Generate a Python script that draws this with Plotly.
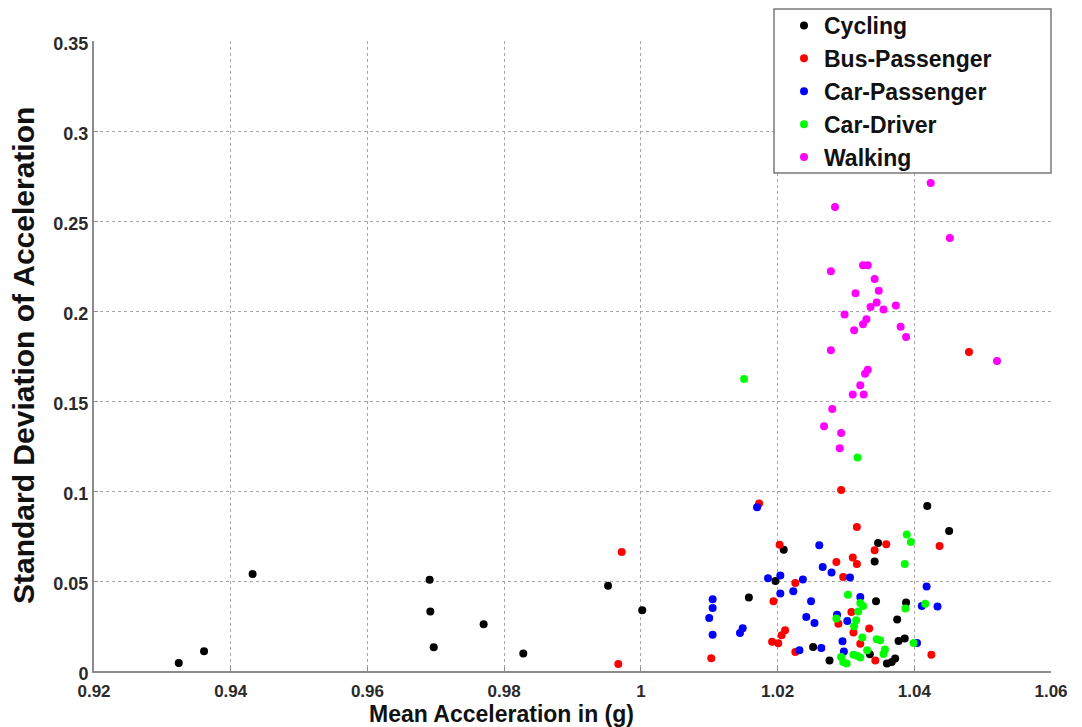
import plotly.graph_objects as go

# Mean acceleration (g) and standard deviation of acceleration per activity
cycling_x = [0.9324, 0.9361, 0.9432, 0.9691, 0.9692, 0.9697, 0.9770, 0.9828, 0.9952, 1.0002,
             1.0158, 1.0197, 1.0209, 1.0252, 1.0276, 1.0335, 1.0342, 1.0344, 1.0347, 1.0360,
             1.0367, 1.0372, 1.0375, 1.0377, 1.0386, 1.0388, 1.0419, 1.0451]
cycling_y = [0.0045, 0.0110, 0.0539, 0.0507, 0.0330, 0.0132, 0.0260, 0.0097, 0.0474, 0.0337,
             0.0408, 0.0500, 0.0674, 0.0133, 0.0059, 0.0093, 0.0609, 0.0387, 0.0711, 0.0041,
             0.0050, 0.0069, 0.0286, 0.0167, 0.0180, 0.0380, 0.0916, 0.0778]

bus_x = [0.9967, 0.9972, 1.0103, 1.0173, 1.0194, 1.0192, 1.0203, 1.0201, 1.0206, 1.0211,
         1.0226, 1.0226, 1.0286, 1.0289, 1.0293, 1.0296, 1.0308, 1.0310, 1.0316, 1.0316,
         1.0321, 1.0311, 1.0334, 1.0342, 1.0343, 1.0359, 1.0425, 1.0437, 1.0480]
bus_y = [0.0039, 0.0661, 0.0071, 0.0930, 0.0387, 0.0163, 0.0702, 0.0154, 0.0198, 0.0226,
         0.0106, 0.0489, 0.0606, 0.0263, 0.1005, 0.0522, 0.0328, 0.0630, 0.0594, 0.0800,
         0.0152, 0.0214, 0.0236, 0.0671, 0.0059, 0.0704, 0.0090, 0.0695, 0.1772]

car_pass_x = [1.0170, 1.0105, 1.0105, 1.0100, 1.0105, 1.0149, 1.0145, 1.0186, 1.0204, 1.0204,
              1.0223, 1.0237, 1.0249, 1.0242, 1.0254, 1.0232, 1.0264, 1.0261, 1.0266, 1.0279,
              1.0287, 1.0297, 1.0295, 1.0302, 1.0306, 1.0321, 1.0404, 1.0411, 1.0418, 1.0434]
car_pass_y = [0.0910, 0.0398, 0.0350, 0.0294, 0.0202, 0.0237, 0.0211, 0.0515, 0.0530, 0.0430,
              0.0443, 0.0508, 0.0387, 0.0300, 0.0267, 0.0115, 0.0128, 0.0698, 0.0578, 0.0547,
              0.0313, 0.0109, 0.0165, 0.0278, 0.0519, 0.0411, 0.0156, 0.0361, 0.0470, 0.0359]

car_drv_x = [1.0151, 1.0317, 1.0389, 1.0395, 1.0386, 1.0303, 1.0321, 1.0325, 1.0387, 1.0416,
             1.0286, 1.0315, 1.0312, 1.0318, 1.0324, 1.0345, 1.0350, 1.0399, 1.0357, 1.0355,
             1.0331, 1.0316, 1.0321, 1.0311, 1.0293, 1.0296, 1.0301]
car_drv_y = [0.1622, 0.1186, 0.0759, 0.0717, 0.0594, 0.0424, 0.0378, 0.0361, 0.0347, 0.0374,
             0.0291, 0.0282, 0.0248, 0.0330, 0.0186, 0.0176, 0.0171, 0.0156, 0.0119, 0.0095,
             0.0115, 0.0085, 0.0075, 0.0090, 0.0078, 0.0050, 0.0041]

walk_x = [1.0424, 1.0284, 1.0452, 1.0278, 1.0325, 1.0332, 1.0342, 1.0348, 1.0314, 1.0345,
          1.0336, 1.0355, 1.0373, 1.0298, 1.0330, 1.0325, 1.0312, 1.0380, 1.0388, 1.0278,
          1.0521, 1.0332, 1.0328, 1.0321, 1.0310, 1.0326, 1.0280, 1.0268, 1.0293, 1.0291]
walk_y = [0.2711, 0.2578, 0.2406, 0.2221, 0.2254, 0.2254, 0.2178, 0.2113, 0.2098, 0.2047,
          0.2022, 0.2009, 0.2030, 0.1980, 0.1954, 0.1926, 0.1893, 0.1913, 0.1856, 0.1782,
          0.1722, 0.1674, 0.1652, 0.1587, 0.1536, 0.1536, 0.1455, 0.1360, 0.1322, 0.1237]

x_ticks = [0.92, 0.94, 0.96, 0.98, 1.00, 1.02, 1.04, 1.06]
x_tick_text = ["0.92", "0.94", "0.96", "0.98", "1", "1.02", "1.04", "1.06"]
y_ticks = [0, 0.05, 0.10, 0.15, 0.20, 0.25, 0.30, 0.35]
y_tick_text = ["0", "0.05", "0.1", "0.15", "0.2", "0.25", "0.3", "0.35"]

series = [
    ("Cycling", cycling_x, cycling_y, "#000000"),
    ("Bus-Passenger", bus_x, bus_y, "#ff0000"),
    ("Car-Passenger", car_pass_x, car_pass_y, "#0000ff"),
    ("Car-Driver", car_drv_x, car_drv_y, "#00ff00"),
    ("Walking", walk_x, walk_y, "#ff00ff"),
]

FONT = "Liberation Sans, Arial, sans-serif"

# figure geometry in pixels
W, H = 1082, 727
M_L, M_R, M_T, M_B = 94, 31, 41, 56
PW, PH = W - M_L - M_R, H - M_T - M_B


def px_to_paper_x(px):
    return (px - M_L) / PW


def px_to_paper_y(py):
    return (H - M_B - py) / PH


def bold(s):
    return f"<b>{s}</b>"


fig = go.Figure()
for name, xs, ys, color in series:
    fig.add_trace(go.Scatter(
        x=xs, y=ys, mode="markers", name=bold(name),
        marker=dict(color=color, size=8, line=dict(width=0)),
    ))

axis_common = dict(
    showgrid=True, gridcolor="#a6a6a6", griddash="dot", gridwidth=1,
    zeroline=False, showline=True, linecolor="#8c8c8c", linewidth=2,
    ticks="inside", ticklen=4, tickcolor="#8c8c8c",
    mirror=False, automargin=False,
)

fig.update_layout(
    width=W, height=H,
    margin=dict(l=M_L, r=M_R, t=M_T, b=M_B, autoexpand=False),
    paper_bgcolor="white", plot_bgcolor="white",
    showlegend=True,
    legend=dict(
        x=px_to_paper_x(784), y=px_to_paper_y(4), xanchor="left", yanchor="top",
        bgcolor="rgba(0,0,0,0)", borderwidth=0,
        font=dict(family=FONT, size=23, color="#111111"),
        itemsizing="trace", tracegroupgap=0, itemwidth=30,
    ),
    shapes=[
        # legend frame
        dict(type="rect", xref="paper", yref="paper", layer="above",
             x0=px_to_paper_x(774), x1=px_to_paper_x(1051),
             y0=px_to_paper_y(173), y1=px_to_paper_y(9),
             fillcolor="white", line=dict(color="#7a7a7a", width=1.5)),
    ],
    annotations=[
        dict(text=bold("Mean Acceleration in (g)"), xref="paper", yref="paper",
             x=px_to_paper_x(501), y=px_to_paper_y(714), xanchor="center", yanchor="middle",
             showarrow=False, font=dict(family=FONT, size=23, color="#111111")),
        dict(text=bold("Standard Deviation of Acceleration"), xref="paper", yref="paper",
             x=px_to_paper_x(23), y=0.5, xanchor="center", yanchor="middle", showarrow=False,
             textangle=-90, font=dict(family=FONT, size=30, color="#111111")),
    ],
)

fig.update_xaxes(range=[0.92, 1.06], tickvals=x_ticks, ticklabelstandoff=4,
                 tickfont=dict(family=FONT, size=17, color="#2a2a2a"),
                 ticktext=[bold(t) for t in x_tick_text], **axis_common)
fig.update_yaxes(range=[0, 0.35], tickvals=y_ticks, ticklabelshift=3,
                 tickfont=dict(family=FONT, size=18, color="#2a2a2a"),
                 ticktext=[bold(t) for t in y_tick_text], **axis_common)

fig.write_html("out.html")
